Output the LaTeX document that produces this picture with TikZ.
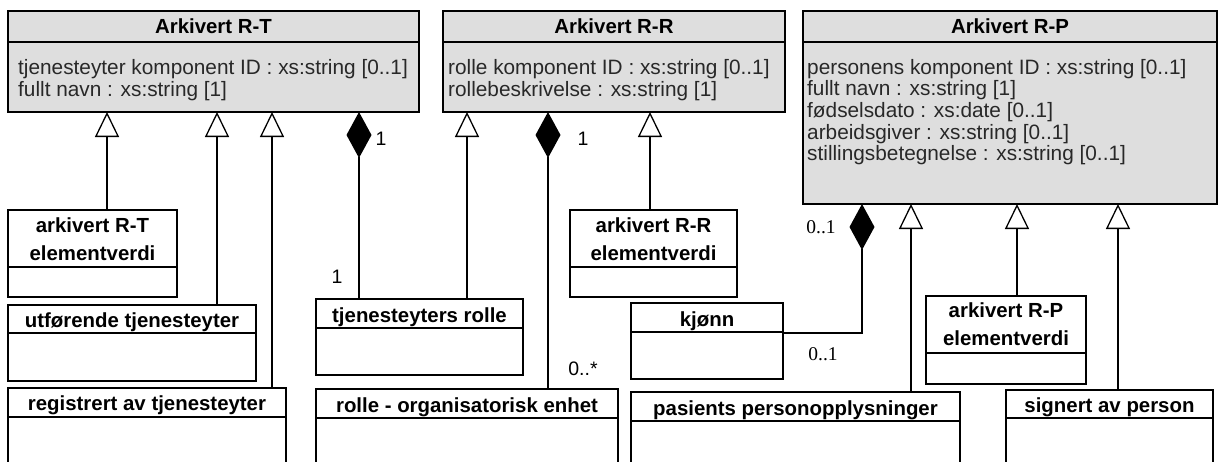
\documentclass[tikz,border=0pt]{standalone}
\usepackage{fontspec}
\setmainfont{Liberation Sans}
\newfontfamily\serifnum{Liberation Serif}
\usetikzlibrary{arrows.meta}
\definecolor{clsfill}{RGB}{222,222,222}
\definecolor{attr}{RGB}{40,40,40}
\tikzset{
  box/.style={draw=black, line width=1.4pt, rectangle, inner sep=0pt, outer sep=0pt},
  sep/.style={line width=1.4pt},
  hdr/.style={font=\fontsize{20.4}{22}\selectfont\bfseries, anchor=base, inner sep=0pt},
  att/.style={font=\fontsize{20.8}{22}\selectfont, text=attr, anchor=base west, inner sep=0pt},
  mult/.style={font=\fontsize{19.5}{20}\selectfont, inner sep=0pt},
  multser/.style={font=\serifnum\fontsize{19.5}{20}\selectfont, inner sep=0pt},
  gen/.style={line width=1.3pt, -{Triangle[open, length=25pt, width=24pt, line width=1.3pt]}},
  comp/.style={line width=1.3pt, -{Diamond[length=46pt, width=25pt]}},
}
\newcommand{\umlbox}[7]{%
  \node[box,#7,minimum width=#4pt,minimum height=#5pt,anchor=north west] (#1) at (#2,#3) {};
  \draw[sep] ([yshift=-#6pt]#1.north west) -- ([yshift=-#6pt]#1.north east);
}
\begin{document}
\begin{tikzpicture}[x=1pt,y=-1pt]
\useasboundingbox (0,0) rectangle (1219,461);
\fill[white] (0,0) rectangle (1219,461);
\clip (0,0) rectangle (1219,461);

% parent classes
\umlbox{RT}{8}{11}{411}{101}{31}{fill=clsfill}
\umlbox{RR}{443}{11}{342}{101}{31}{fill=clsfill}
\umlbox{RP}{803}{11}{414}{193}{31}{fill=clsfill}

\node[hdr] at ([yshift=-22pt]RT.north) {Arkivert R-T};
\node[att] at ([xshift=10pt,yshift=-63pt]RT.north west) {tjenesteyter komponent ID : xs:string [0..1]};
\node[att] at ([xshift=10pt,yshift=-85pt]RT.north west) {fullt navn : xs:string [1]};

\node[hdr] at ([yshift=-22pt]RR.north) {Arkivert R-R};
\node[att] at ([xshift=5pt,yshift=-63pt]RR.north west) {rolle komponent ID : xs:string [0..1]};
\node[att] at ([xshift=5pt,yshift=-85pt]RR.north west) {rollebeskrivelse : xs:string [1]};

\node[hdr] at ([yshift=-22pt]RP.north) {Arkivert R-P};
\node[att] at ([xshift=4pt,yshift=-63pt]RP.north west) {personens komponent ID : xs:string [0..1]};
\node[att] at ([xshift=4pt,yshift=-84.7pt]RP.north west) {fullt navn : xs:string [1]};
\node[att] at ([xshift=4pt,yshift=-106.4pt]RP.north west) {fødselsdato : xs:date [0..1]};
\node[att] at ([xshift=4pt,yshift=-128.1pt]RP.north west) {arbeidsgiver : xs:string [0..1]};
\node[att] at ([xshift=4pt,yshift=-149.8pt]RP.north west) {stillingsbetegnelse : xs:string [0..1]};

% child classes
\umlbox{RTe}{8}{210}{169}{87}{57}{fill=white}
\umlbox{utf}{8}{305}{248}{76}{28}{fill=white}
\umlbox{reg}{8}{388}{278}{100}{29}{fill=white}
\umlbox{tjr}{316}{299}{207}{76}{29}{fill=white}
\umlbox{rol}{316}{389}{302}{100}{29}{fill=white}
\umlbox{RRe}{570}{210}{167}{87}{57}{fill=white}
\umlbox{kj}{631}{303}{152}{76}{29}{fill=white}
\umlbox{pas}{631}{392}{329}{100}{29}{fill=white}
\umlbox{RPe}{926}{296}{160}{88}{57}{fill=white}
\umlbox{sig}{1006}{390}{207}{100}{28}{fill=white}

\node[hdr] at ([yshift=-22pt]RTe.north) {arkivert R-T};
\node[hdr] at ([yshift=-50pt]RTe.north) {elementverdi};
\node[hdr] at ([yshift=-22pt]utf.north) {utførende tjenesteyter};
\node[hdr] at ([yshift=-22pt]reg.north) {registrert av tjenesteyter};
\node[hdr] at ([yshift=-23pt]tjr.north) {tjenesteyters rolle};
\node[hdr] at ([yshift=-23pt]rol.north) {rolle - organisatorisk enhet};
\node[hdr] at ([yshift=-22pt]RRe.north) {arkivert R-R};
\node[hdr] at ([yshift=-50pt]RRe.north) {elementverdi};
\node[hdr] at ([yshift=-23pt]kj.north) {kjønn};
\node[hdr] at ([yshift=-23pt]pas.north) {pasients personopplysninger};
\node[hdr] at ([yshift=-21pt]RPe.north) {arkivert R-P};
\node[hdr] at ([yshift=-49pt]RPe.north) {elementverdi};
\node[hdr] at ([yshift=-22pt]sig.north) {signert av person};

% generalizations
\draw[gen] ([xshift=14.5pt]RTe.north) -- ([xshift=14.5pt]RTe.north |- RT.south);
\draw[gen] ([xshift=85pt]utf.north) -- ([xshift=85pt]utf.north |- RT.south);
\draw[gen] ([xshift=125pt]reg.north) -- ([xshift=125pt]reg.north |- RT.south);
\draw[gen] ([xshift=47.5pt]tjr.north) -- ([xshift=47.5pt]tjr.north |- RR.south);
\draw[gen] ([xshift=-3.5pt]RRe.north) -- ([xshift=-3.5pt]RRe.north |- RR.south);
\draw[gen] ([xshift=115.5pt]pas.north) -- ([xshift=115.5pt]pas.north |- RP.south);
\draw[gen] ([xshift=11pt]RPe.north) -- ([xshift=11pt]RPe.north |- RP.south);
\draw[gen] ([xshift=8.5pt]sig.north) -- ([xshift=8.5pt]sig.north |- RP.south);

% compositions
\draw[comp] ([xshift=-60.5pt]tjr.north) -- ([xshift=-60.5pt]tjr.north |- RT.south);
\draw[comp] ([xshift=81pt]rol.north) -- ([xshift=81pt]rol.north |- RR.south);
\coordinate (kjc) at ([yshift=8pt]kj.east);
\coordinate (rpc) at ([xshift=59pt]RP.south west);
\draw[comp] (kjc) -| (rpc);

% multiplicities
\node[mult] at (381,139) {1};
\node[mult] at (337,277) {1};
\node[mult] at (583,139) {1};
\node[mult] at (583,369) {0..*};
\node[multser] at (821,227) {0..1};
\node[multser] at (823,354) {0..1};
\end{tikzpicture}
\end{document}
